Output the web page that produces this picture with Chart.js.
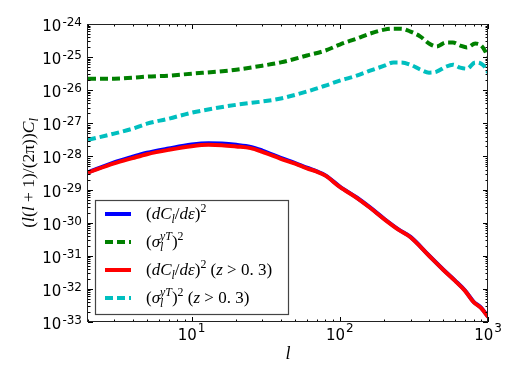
<!DOCTYPE html>
<html>
<head>
<meta charset="utf-8">
<script src="https://cdn.jsdelivr.net/npm/chart.js@4/dist/chart.umd.min.js"></script>
<style>
  html, body { margin: 0; padding: 0; background: #fff; }
</style>
</head>
<body>
<canvas id="cl_chart" width="518" height="382"></canvas>
<script>
// multipoles for the (dC_l/d eps)^2 curves
const ellCross = [2, 3, 4, 5, 7, 10, 13, 16, 20, 25, 30, 40, 50, 60, 70, 80, 100, 130, 160, 200, 250, 300, 400, 500, 600, 700, 800, 900, 1000];
const dCdeAll = [3.31e-29, 6.61e-29, 9.77e-29, 1.29e-28, 1.74e-28, 2.29e-28, 2.51e-28, 2.45e-28, 2.24e-28, 1.95e-28, 1.51e-28, 9.12e-29, 6.31e-29, 4.57e-29, 3.55e-29, 2.69e-29, 1.23e-29, 5.75e-30, 2.88e-30, 1.29e-30, 6.17e-31, 3.72e-31, 1.02e-31, 3.80e-32, 1.78e-32, 8.91e-33, 4.07e-33, 2.69e-33, 1.45e-33];
const dCdeHighZ = [3.24e-29, 6.17e-29, 8.91e-29, 1.17e-28, 1.58e-28, 2.04e-28, 2.24e-28, 2.19e-28, 2.00e-28, 1.78e-28, 1.38e-28, 8.51e-29, 6.03e-29, 4.37e-29, 3.47e-29, 2.63e-29, 1.20e-29, 5.62e-30, 2.82e-30, 1.26e-30, 6.03e-31, 3.63e-31, 1.00e-31, 3.72e-32, 1.74e-32, 8.71e-33, 3.98e-33, 2.63e-33, 1.41e-33];

// multipoles for the (sigma_l^yT)^2 curves
const ellNoise = [2, 3, 4, 5, 7, 10, 15, 20, 30, 40, 60, 80, 100, 130, 160, 200, 230, 260, 300, 350, 400, 450, 520, 580, 650, 720, 820, 900, 960, 1000];
const sigmaAll = [2.24e-26, 2.24e-26, 2.40e-26, 2.57e-26, 2.75e-26, 3.16e-26, 3.63e-26, 4.17e-26, 5.50e-26, 6.92e-26, 1.12e-25, 1.58e-25, 2.40e-25, 3.63e-25, 5.13e-25, 6.76e-25, 7.24e-25, 7.24e-25, 5.89e-25, 4.17e-25, 2.57e-25, 2.09e-25, 2.75e-25, 2.75e-25, 2.24e-25, 1.95e-25, 2.57e-25, 2.24e-25, 1.48e-25, 9.8e-26];
const sigmaHighZ = [3.16e-28, 4.90e-28, 6.92e-28, 9.77e-28, 1.38e-27, 2.09e-27, 2.95e-27, 3.63e-27, 4.57e-27, 5.62e-27, 9.12e-27, 1.38e-26, 1.95e-26, 2.75e-26, 3.89e-26, 5.50e-26, 6.92e-26, 6.92e-26, 5.89e-26, 4.17e-26, 3.39e-26, 3.63e-26, 5.13e-26, 5.89e-26, 4.79e-26, 4.47e-26, 6.92e-26, 6.31e-26, 4.79e-26, 3.39e-26];

// axis ticks
const yTicks = [1e-33, 1e-32, 1e-31, 1e-30, 1e-29, 1e-28, 1e-27, 1e-26, 1e-25, 1e-24];
const yTickExp = ['-33', '-32', '-31', '-30', '-29', '-28', '-27', '-26', '-25', '-24'];
const xTicks = [10, 100, 1000];
const xTickExp = ['1', '2', '3'];

const SANS = "'DejaVu Sans', sans-serif";
const SERIF = "'Liberation Serif', 'DejaVu Serif', serif";

// legend entries, as pieces of math text
const part1 = [{t: '('}, {t: 'dC', it: 1}, {t: 'l', it: 1, pos: 'sub'}, {t: '/'}, {t: 'dε', it: 1}, {t: ')'}, {t: '2', pos: 'sup'}];
const part2 = [{t: '('}, {t: 'σ', it: 1}, {t: 'yT', it: 1, pos: 'sup', stay: 1}, {t: 'l', it: 1, pos: 'sub'}, {t: ')'}, {t: '2', pos: 'sup'}];
const zCut = [{t: ' ('}, {t: 'z', it: 1}, {t: ' > 0. 3)'}];
const legendItems = [
    {parts: part1, color: '#0000ff', dash: []},
    {parts: part2, color: '#008000', dash: [8, 4]},
    {parts: part1.concat(zCut), color: '#ff0000', dash: []},
    {parts: part2.concat(zCut), color: '#00bfbf', dash: [8, 4]}
];
const yTitle = [{t: '('}, {t: 'l', it: 1}, {t: '('}, {t: 'l', it: 1}, {t: ' + 1)/(2π))'}, {t: 'C', it: 1}, {t: 'l', it: 1, pos: 'sub'}];

function points(xs, ys) {
    return xs.map((x, i) => ({x: x, y: ys[i]}));
}

// lay out a list of text pieces with sub/superscripts
function layoutRich(ctx, parts, size) {
    let x = 0, pend = 0;
    const items = [];
    parts.forEach(p => {
        const small = p.pos === 'sup' || p.pos === 'sub';
        const font = (p.it ? 'italic ' : '') + (small ? size * 0.7 : size) + 'px ' + SERIF;
        ctx.font = font;
        const w = ctx.measureText(p.t).width;
        const dy = p.pos === 'sup' ? -size * 0.4 : (p.pos === 'sub' ? size * 0.22 : 0);
        items.push({t: p.t, x: x, dy: dy, font: font});
        if (p.stay) { pend = Math.max(pend, w); }
        else { x += Math.max(w, pend); pend = 0; }
    });
    return {items: items, width: x};
}

function drawRich(ctx, parts, x, y, size, center) {
    const lay = layoutRich(ctx, parts, size);
    const x0 = center ? x - lay.width / 2 : x;
    ctx.textAlign = 'left';
    ctx.textBaseline = 'alphabetic';
    lay.items.forEach(it => {
        ctx.font = it.font;
        ctx.fillText(it.t, x0 + it.x, y + it.dy);
    });
}

// power of ten label: "10" with a raised exponent
function drawPow(ctx, exp, x, y, align, supShift) {
    ctx.textBaseline = 'alphabetic';
    ctx.textAlign = 'left';
    ctx.font = '15px ' + SANS;
    const wb = ctx.measureText('10').width;
    ctx.font = '12px ' + SANS;
    const we = ctx.measureText(exp).width;
    const total = wb + we + 1;
    const x0 = align === 'right' ? x - total : x - total / 2;
    ctx.font = '15px ' + SANS;
    ctx.fillText('10', x0, y);
    ctx.font = '12px ' + SANS;
    ctx.fillText(exp, x0 + wb + 1, y - supShift);
}

const axesPlugin = {
    id: 'axesPlugin',
    afterDraw(chart) {
        const ctx = chart.ctx;
        const ca = chart.chartArea;
        const xs = chart.scales.x, ys = chart.scales.y;
        ctx.save();
        ctx.fillStyle = '#000';
        ctx.strokeStyle = '#000';
        ctx.lineWidth = 1;

        // inward ticks on all four sides
        ctx.beginPath();
        for (let d = 1; d <= 1000; d *= 10) {
            for (let m = 1; m <= 9; m++) {
                const v = m * d;
                if (v < 2 || v > 1000) continue;
                const px = Math.round(xs.getPixelForValue(v)) + 0.5;
                const len = m === 1 ? 5 : 2.5;
                ctx.moveTo(px, ca.bottom); ctx.lineTo(px, ca.bottom - len);
                ctx.moveTo(px, ca.top); ctx.lineTo(px, ca.top + len);
            }
        }
        yTicks.forEach(d => {
            for (let m = 1; m <= 9; m++) {
                const v = m * d;
                if (v > 1.0001e-24) continue;
                const py = Math.round(ys.getPixelForValue(v)) + 0.5;
                const len = m === 1 ? 5 : 2.5;
                ctx.moveTo(ca.left, py); ctx.lineTo(ca.left + len, py);
                ctx.moveTo(ca.right, py); ctx.lineTo(ca.right - len, py);
            }
        });
        ctx.stroke();

        // frame
        ctx.strokeStyle = '#222';
        ctx.strokeRect(Math.round(ca.left) - 0.5, Math.round(ca.top) + 0.5, Math.round(ca.right - ca.left), Math.round(ca.bottom - ca.top) - 1);

        // tick labels
        yTicks.forEach((v, i) => drawPow(ctx, yTickExp[i], 82, ys.getPixelForValue(v) + 7, 'right', 5));
        xTicks.forEach((v, i) => drawPow(ctx, xTickExp[i], xs.getPixelForValue(v), 340, 'center', 8));

        // axis titles
        drawRich(ctx, [{t: 'l', it: 1}], (ca.left + ca.right) / 2, 359, 18, true);
        ctx.save();
        ctx.translate(34, (ca.top + ca.bottom) / 2);
        ctx.rotate(-Math.PI / 2);
        drawRich(ctx, yTitle, 0, 0, 17.5, true);
        ctx.restore();

        // legend
        ctx.fillStyle = '#fff';
        ctx.fillRect(95, 200, 193, 114);
        ctx.strokeStyle = '#444';
        ctx.lineWidth = 1.2;
        ctx.strokeRect(95.5, 200.5, 193, 114);
        legendItems.forEach((item, i) => {
            const y = 214 + i * 28;
            ctx.strokeStyle = item.color;
            ctx.lineWidth = 4;
            ctx.lineCap = 'butt';
            ctx.setLineDash(item.dash);
            ctx.beginPath();
            ctx.moveTo(105, y); ctx.lineTo(131, y);
            ctx.stroke();
            ctx.setLineDash([]);
            ctx.fillStyle = '#000';
            drawRich(ctx, item.parts, 146, y + 5, 17, false);
        });
        ctx.restore();
    }
};

const lineStyle = {pointRadius: 0, borderWidth: 4, fill: false, cubicInterpolationMode: 'monotone', borderCapStyle: 'butt'};

new Chart(document.getElementById('cl_chart').getContext('2d'), {
    type: 'line',
    data: {
        datasets: [
            Object.assign({label: 'dCde all', data: points(ellCross, dCdeAll), borderColor: '#0000ff', order: 3}, lineStyle),
            Object.assign({label: 'sigma all', data: points(ellNoise, sigmaAll), borderColor: '#008000', borderDash: [8, 4], order: 2}, lineStyle),
            Object.assign({label: 'dCde z>0.3', data: points(ellCross, dCdeHighZ), borderColor: '#ff0000', order: 1}, lineStyle),
            Object.assign({label: 'sigma z>0.3', data: points(ellNoise, sigmaHighZ), borderColor: '#00bfbf', borderDash: [8, 4], order: 0}, lineStyle)
        ]
    },
    options: {
        responsive: false,
        animation: false,
        devicePixelRatio: 1,
        layout: {padding: {left: 88, right: 30, top: 24, bottom: 60}},
        scales: {
            x: {type: 'logarithmic', min: 2, max: 1000, display: false},
            y: {type: 'logarithmic', min: 1e-33, max: 1e-24, display: false}
        },
        plugins: {
            legend: {display: false},
            tooltip: {enabled: false}
        }
    },
    plugins: [axesPlugin]
});
</script>
</body>
</html>
